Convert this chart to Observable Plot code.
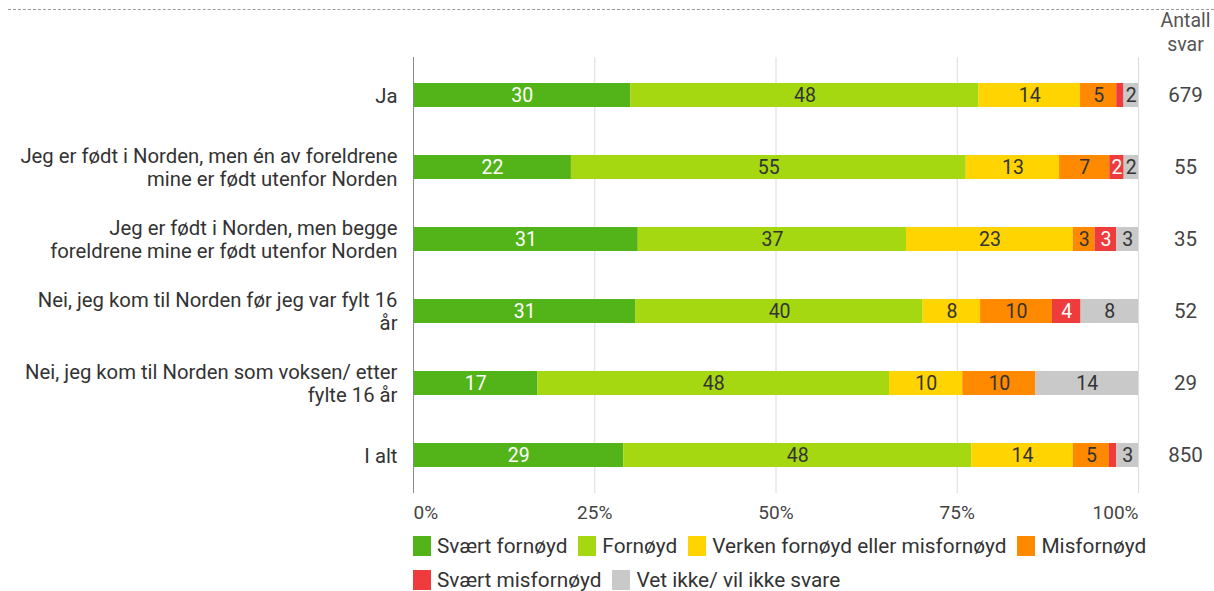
<!DOCTYPE html>
<html><head><meta charset="utf-8">
<script src="https://cdn.jsdelivr.net/npm/d3@7"></script>
<script src="https://cdn.jsdelivr.net/npm/@observablehq/plot@0.6"></script>
<style>
body{margin:0;background:#fff;font-family:Roboto, "Noto Sans", sans-serif;}
#wrap{position:relative;width:1214px;height:591px;overflow:hidden;background:#fff}
#dash{position:absolute;left:8px;right:0;top:9px;border-top:1px dashed #9a9a9a}
#chart{position:absolute;left:0;top:0}
#legend{position:absolute;left:413px;top:535px;width:760px;display:flex;flex-wrap:wrap;font-size:20.8px;color:#333;row-gap:12px;column-gap:11px;line-height:22px}
.item{display:flex;align-items:center;white-space:nowrap}
.sw{display:inline-block;width:18px;height:20px;margin-right:6px}
</style>
</head><body>
<div id="wrap"><div id="dash"></div><div id="chart"></div><div id="legend"></div></div>
<script>
const categories = [
  "Ja",
  "Jeg er født i Norden, men én av foreldrene\nmine er født utenfor Norden",
  "Jeg er født i Norden, men begge\nforeldrene mine er født utenfor Norden",
  "Nei, jeg kom til Norden før jeg var fylt 16\når",
  "Nei, jeg kom til Norden som voksen/ etter\nfylte 16 år",
  "I alt"
];
const responses = ["Svært fornøyd","Fornøyd","Verken fornøyd eller misfornøyd","Misfornøyd","Svært misfornøyd","Vet ikke/ vil ikke svare"];
const colors = ["#52b418","#a5d810","#ffd400","#ff8a00","#ee3b3b","#c9c9c9"];
const svaertFornoyd   = [30,22,31,31,17,29];
const fornoyd         = [48,55,37,40,48,48];
const verken          = [14,13,23, 8,10,14];
const misfornoyd      = [ 5, 7, 3,10,10, 5];
const svaertMisfornoyd= [ 1, 2, 3, 4, 0, 1];
const vetIkke         = [ 2, 2, 3, 8,14, 3];
const antallSvar      = [679,55,35,52,29,850];
const xTicks = [0, 0.25, 0.5, 0.75, 1];

const series = [svaertFornoyd, fornoyd, verken, misfornoyd, svaertMisfornoyd, vetIkke];
const rows = [];
categories.forEach((c, i) => responses.forEach((r, j) => rows.push({cat: c, resp: r, value: series[j][i]})));
const totals = categories.map((c, i) => ({cat: c, n: antallSvar[i]}));
const whiteText = new Set([responses[0], responses[4]]);
const stackOpts = {x: "value", y: "cat", z: "resp", offset: "normalize"};
const pct = d => Math.round(d * 100) + "%";

const plot = Plot.plot({
  width: 1214,
  height: 528,
  marginLeft: 413,
  marginRight: 76,
  marginTop: 57,
  marginBottom: 35,
  style: {fontFamily: "Roboto, 'Noto Sans', sans-serif", fontSize: "19px", color: "#333", overflow: "visible", background: "transparent"},
  x: {domain: [0, 1], axis: null, label: null},
  y: {domain: categories, paddingInner: 0.67, paddingOuter: 0.345, axis: null, label: null},
  color: {domain: responses, range: colors},
  marks: [
    Plot.ruleX(xTicks.slice(1), {stroke: "#dcdcdc", strokeWidth: 1}),
    Plot.barX(rows, Plot.stackX({...stackOpts, fill: "resp"})),
    Plot.ruleX(xTicks.slice(0, 1), {stroke: "#8a8a8a", strokeWidth: 1}),
    Plot.text(rows, Plot.stackX({...stackOpts, text: d => (d.value >= 2 && whiteText.has(d.resp)) ? String(d.value) : "", fill: "white", fontSize: 19.5})),
    Plot.text(rows, Plot.stackX({...stackOpts, text: d => (d.value >= 2 && !whiteText.has(d.resp)) ? String(d.value) : "", fill: "#333", fontSize: 19.5})),
    Plot.axisY({tickSize: 0, tickPadding: 16, fontSize: 20.3, lineHeight: 1.14, fill: "#333", textAnchor: "end", label: null}),
    Plot.axisX(xTicks.slice(0, 1), {tickSize: 0, tickPadding: 12, textAnchor: "start", tickFormat: pct, fill: "#444", fontSize: 19, label: null}),
    Plot.axisX(xTicks.slice(1, 4), {tickSize: 0, tickPadding: 12, tickFormat: pct, fill: "#444", fontSize: 19, label: null}),
    Plot.axisX(xTicks.slice(4), {tickSize: 0, tickPadding: 12, textAnchor: "end", tickFormat: pct, fill: "#444", fontSize: 19, label: null}),
    Plot.text(totals, {x: () => 1, y: "cat", text: d => String(d.n), dx: 47, fill: "#444", fontSize: 20.5}),
    Plot.text(["Antall\nsvar"], {x: () => 1, frameAnchor: "top", text: d => d, dx: 47, dy: -7, lineAnchor: "bottom", lineHeight: 1.2, fill: "#555", fontSize: 19.5})
  ]
});
document.getElementById("chart").appendChild(plot);

const legend = document.getElementById("legend");
responses.forEach((r, i) => {
  const it = document.createElement("div");
  it.className = "item";
  const sw = document.createElement("span");
  sw.className = "sw";
  sw.style.background = colors[i];
  it.appendChild(sw);
  it.appendChild(document.createTextNode(r));
  legend.appendChild(it);
});
</script>
</body></html>
